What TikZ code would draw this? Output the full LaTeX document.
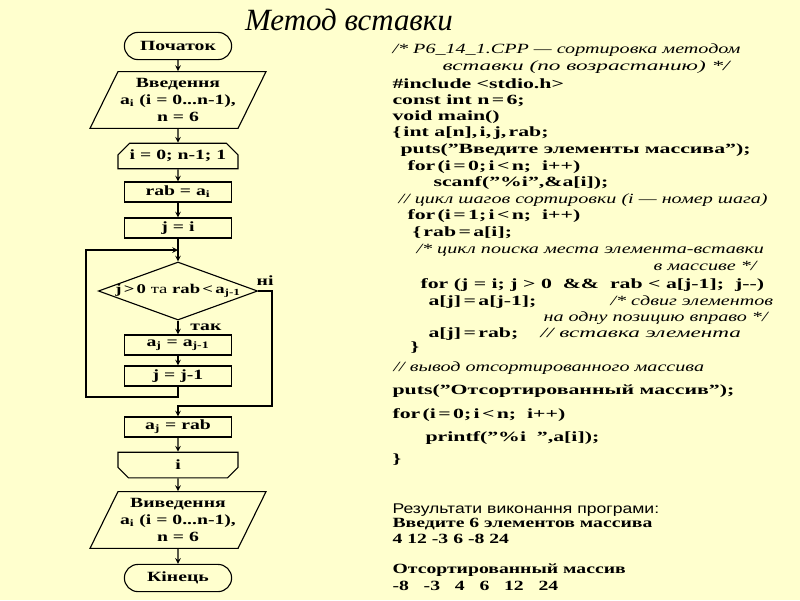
\documentclass[tikz,border=0pt]{standalone}
\usepackage{fontspec}
\setmainfont{Liberation Serif}
\newfontfamily\codefont[FakeStretch=1.55]{Liberation Serif}
\newfontfamily\cmtfont[FakeStretch=1.43]{Liberation Serif}
\newfontfamily\cmtwide[FakeStretch=1.65]{Liberation Serif}
\newfontfamily\chartfont[FakeStretch=1.4]{Liberation Serif}
\newfontfamily\resfont[FakeStretch=1.25]{Liberation Sans}
\usetikzlibrary{shapes.geometric,shapes.misc}

\definecolor{paper}{RGB}{255,255,206}
\newcommand{\codebf}{\codefont\bfseries\fontsize{10}{12}\selectfont}
\newcommand{\codeit}{\cmtfont\itshape\fontsize{10}{12}\selectfont}
\newcommand{\codewide}{\cmtwide\itshape\fontsize{10}{12}\selectfont}
\newcommand{\chartbf}{\chartfont\bfseries\fontsize{10}{12}\selectfont}

\begin{document}
\begin{tikzpicture}[>=stealth, x=0.025cm, y=-0.025cm, thick,
  every node/.style={font=\chartbf},
  term/.style={rounded rectangle, draw, minimum width=2.75cm, minimum height=0.68cm, inner sep=1pt},
  io/.style={trapezium, trapezium left angle=57, trapezium right angle=123, draw,
    trapezium stretches body, minimum width=4.4cm, minimum height=1.42cm, inner sep=0pt, align=center},
  box/.style={rectangle, draw, minimum width=2.68cm, minimum height=0.5cm, inner sep=1pt},
  loopbox/.style={chamfered rectangle, draw, minimum width=3cm, minimum height=0.64cm,
    chamfered rectangle xsep=0.2cm, inner sep=1pt},
  cond/.style={diamond, draw, aspect=2.75, minimum width=3.98cm, minimum height=1.45cm, inner sep=-1pt,
    font=\chartfont\bfseries\fontsize{9.5}{11}\selectfont},
  code/.style={anchor=base west, inner sep=0pt, font=\codebf},
  cmt/.style={code, font=\codeit},
  res/.style={anchor=base west, inner sep=0pt}]

% Background
\fill[paper] (0,0) rectangle (800,600);
\useasboundingbox (0,0) rectangle (800,600);

% Title
\node[font=\itshape\fontsize{22}{26}\selectfont] (title) at (349,20) {Метод вставки};

% Flowchart
\node[term] (start) at (178,46) {Початок};
\node[io] (in1) at (178,100) {Введення\\a\textsubscript{i} (i = 0...n-1),\\n = 6};
\node[loopbox, chamfered rectangle corners={north west, north east}] (loop1) at (178,156) {i = 0; n-1; 1};
\node[box] (rab) at (178,192) {rab = a\textsubscript{i}};
\node[box] (ji) at (178,228) {j = i};
\coordinate (join) at (178,250);
\node[cond] (test) at (178,291) {j\,>\,0 {\mdseries та} rab\,<\,a\textsubscript{j-1}};
\node[box] (shift) at (178,345) {a\textsubscript{j} = a\textsubscript{j-1}};
\node[box] (dec) at (178,376) {j = j-1};
\coordinate (lback) at (86,397);
\coordinate (rdown) at (272,406);
\node[box] (put) at (178,427) {a\textsubscript{j} = rab};
\node[loopbox, chamfered rectangle corners={south west, south east}] (loop2) at (178,465) {i};
\node[io] (out) at (178,520) {Виведення\\a\textsubscript{i} (i = 0...n-1),\\n = 6};
\node[term] (stop) at (178,578) {Кінець};

% Connectors
\draw[->] (start) -- (in1);
\draw[->] (in1) -- (loop1);
\draw[->] (loop1) -- (rab);
\draw[->] (rab) -- (ji);
\draw[->] (ji) -- (test);
\draw[->] (test) -- node[right, xshift=5pt] {так} (shift);
\draw[->] (shift) -- (dec);
\draw[->] (dec.south) |- (lback) |- (join);
\draw[->] (test.east) -| node[pos=0.25, above] {ні} (rdown) -| (put.north);
\draw[->] (put) -- (loop2);
\draw[->] (loop2) -- (out);
\draw[->] (out) -- (stop);

% Program text
\node[cmt] (c1) at (392,53) {/* P6\_14\_1.CPP — сортировка методом};
\node[cmt, font=\codewide] (c2) at (442,70) {вставки (по возрастанию) */};
\node[code] (c3) at (392,88) {\#include <stdio.h>};
\node[code] (c4) at (392,104) {const int n\,=\,6;};
\node[code] (c5) at (392,120) {void main()};
\node[code] (c6) at (392,136) {\{\,int a[n],\,i,\,j,\,rab;};
\node[code] (c7) at (400,153) {puts(”Введите элементы массива”);};
\node[code] (c8) at (407,170) {for\,(i\,=\,0;\,i\,<\,n;\ \ i++)};
\node[code] (c9) at (433,186) {scanf(”\%i”,\&a[i]);};
\node[cmt] (c10) at (398,203) {// цикл шагов сортировки (i — номер шага)};
\node[code] (c11) at (407,219) {for\,(i\,=\,1;\,i\,<\,n;\ \ i++)};
\node[code] (c12) at (412,236) {\{\,rab\,=\,a[i];};
\node[cmt] (c13) at (416,253) {/* цикл поиска места элемента-вставки};
\node[cmt, anchor=base east] (c14) at (757,270) {в массиве */};
\node[code] (c15) at (420,288) {for (j = i; j > 0\ \ \&\&\ \ rab < a[j-1];\ \ j-{}-)};
\node[code] (c16) at (428,305) {a[j]\,=\,a[j-1];};
\node[cmt] (c16c) at (610,305) {/* сдвиг элементов};
\node[cmt] (c17) at (543,321) {на одну позицию вправо */};
\node[code] (c18) at (428,337) {a[j]\,=\,rab;};
\node[cmt, font=\codewide] (c18c) at (540,337) {// вставка элемента};
\node[code] (c19) at (410,351) {\}};
\node[cmt] (c20) at (393,371) {// вывод отсортированного массива};
\node[code] (c21) at (392,394) {puts(”Отсортированный массив”);};
\node[code] (c22) at (392,418) {for\,(i\,=\,0;\,i\,<\,n;\ \ i++)};
\node[code] (c23) at (425,441) {printf(”\%i\ \ ”,a[i]);};
\node[code] (c24) at (392,463) {\}};

% Results
\node[res, font=\resfont\fontsize{10}{12}\selectfont] (r1) at (392,513) {Результати виконання програми:};
\node[res] (r2) at (392,527) {Введите 6 элементов массива};
\node[res] (r3) at (392,543) {4 12 -3 6 -8 24};
\node[res] (r4) at (392,573) {Отсортированный массив};
\node[res] (r5) at (392,590) {-8\ \ \ -3\ \ \ 4\ \ \ 6\ \ \ 12\ \ \ 24};

\end{tikzpicture}
\end{document}
